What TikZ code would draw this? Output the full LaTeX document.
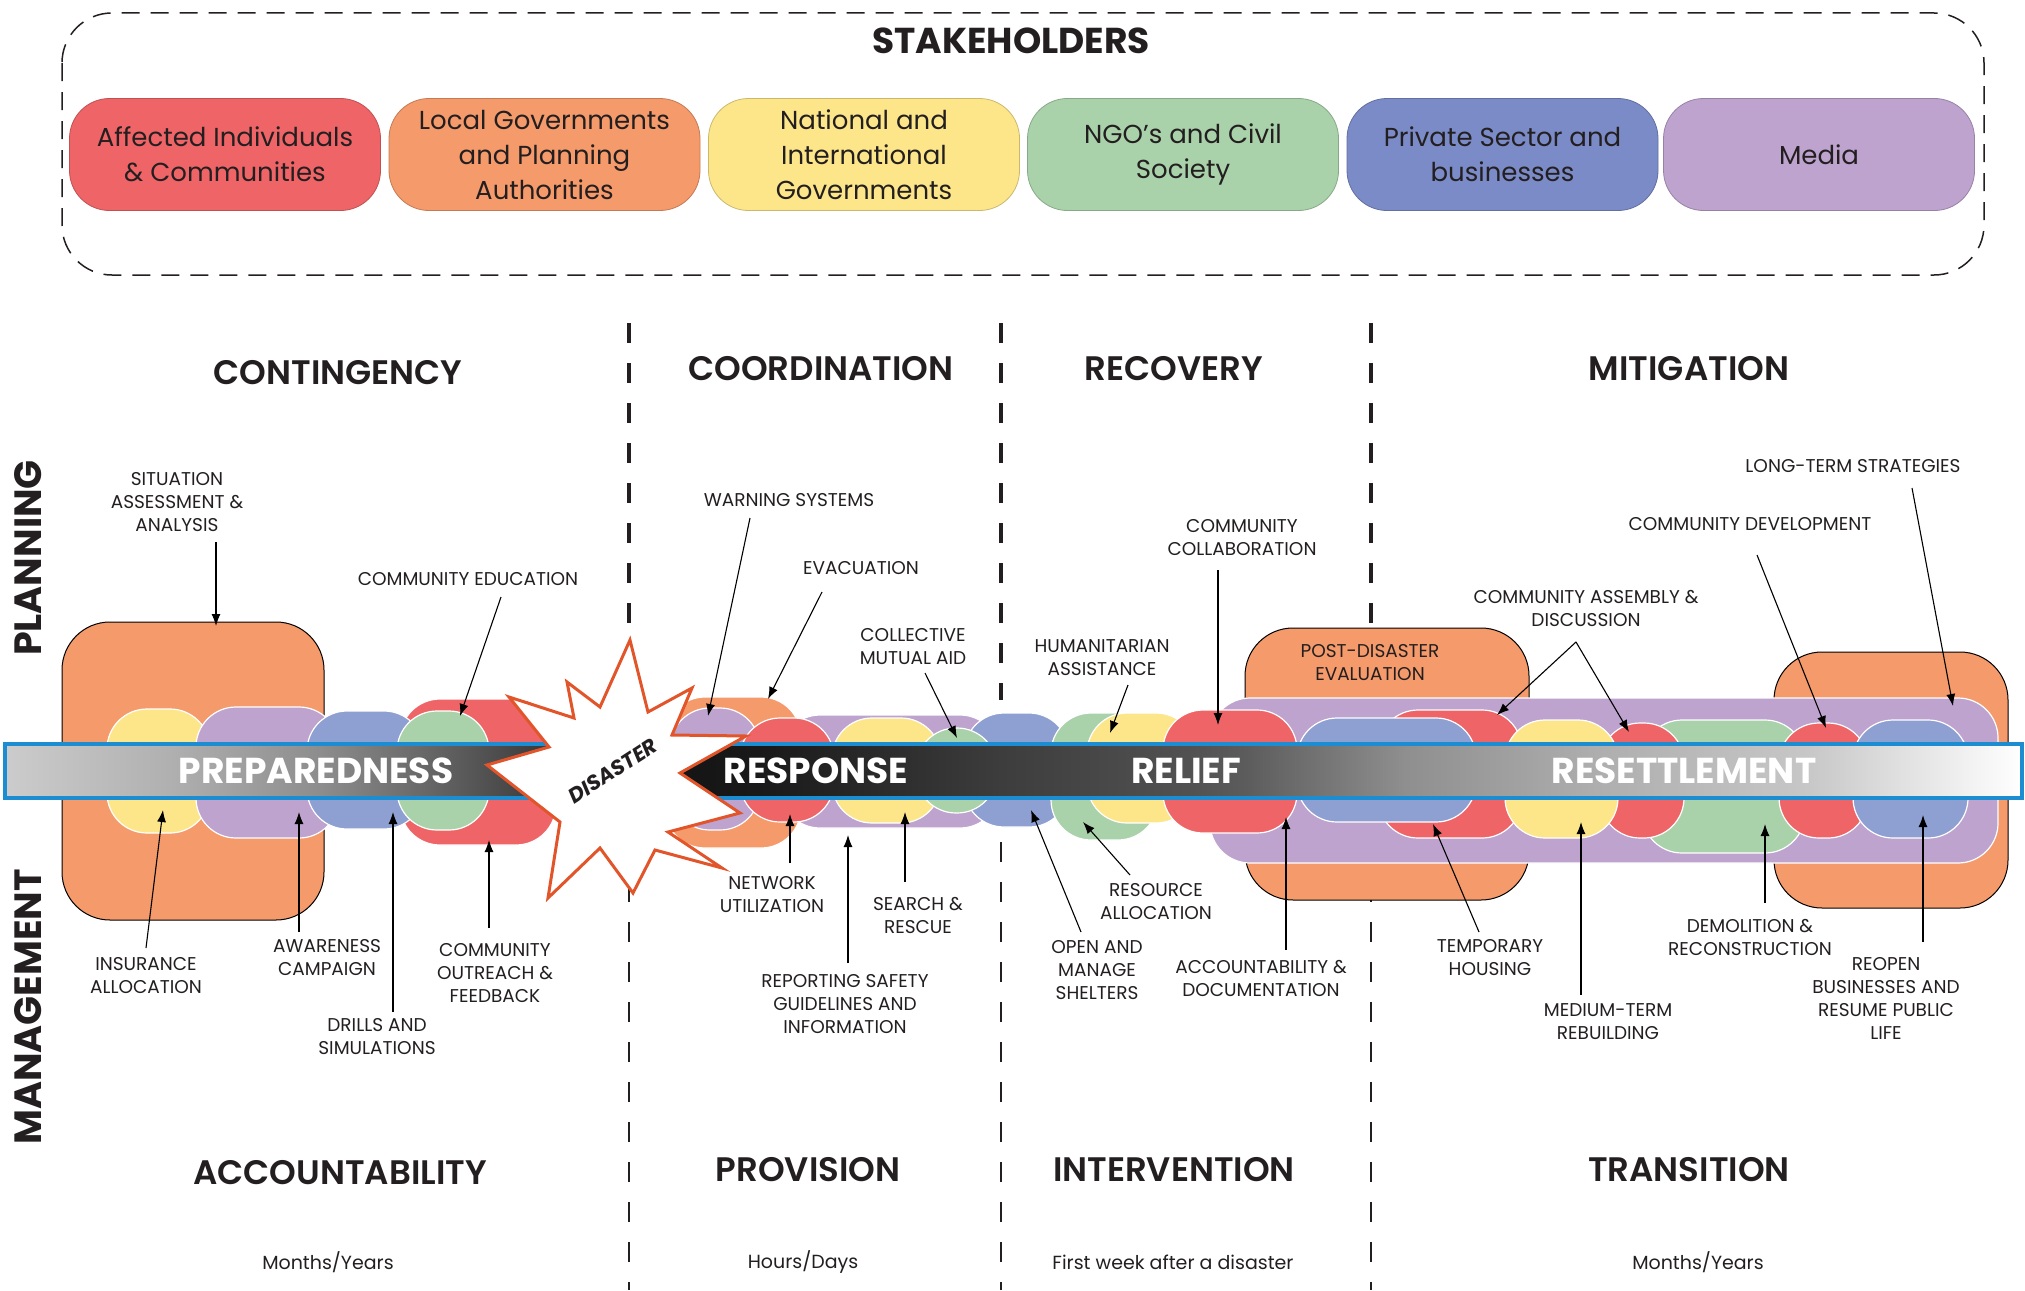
\documentclass[tikz,border=0pt]{standalone}
\usepackage{fontspec}
\setmainfont{Poppins}
\newfontfamily\headfont{Poppins}[UprightFont=* SemiBold]
\usepackage{xcolor}
\usepackage{tikz}
\usetikzlibrary{arrows.meta, positioning, calc}

\definecolor{ink}{HTML}{231F20}
\definecolor{hRed}{HTML}{EF6567}
\definecolor{hOrange}{HTML}{F59A6A}
\definecolor{hYellow}{HTML}{FDE68A}
\definecolor{hGreen}{HTML}{AAD2AA}
\definecolor{hBlue}{HTML}{7B8BC7}
\definecolor{hPurple}{HTML}{BDA3CE}
\definecolor{pBlue}{HTML}{8E9FD2}
\definecolor{bandBlue}{HTML}{1B8DD0}
\definecolor{starEdge}{HTML}{E2552B}

\pgfdeclarehorizontalshading{prepbar}{100bp}{color(0bp)=(black!20); color(25bp)=(black!20); color(40bp)=(black!31); color(54bp)=(black!45); color(67bp)=(black!65); color(75bp)=(black!78); color(100bp)=(black!78)}
\pgfdeclarehorizontalshading{respbar}{100bp}{color(0bp)=(black!92); color(25bp)=(black!92); color(28bp)=(black!90); color(37bp)=(black!76); color(44bp)=(black!68); color(46bp)=(black!64); color(52bp)=(black!44); color(59bp)=(black!32); color(67bp)=(black!22); color(70.5bp)=(black!12); color(75bp)=(white); color(100bp)=(white)}

\begin{document}
\begin{tikzpicture}[
    x=1pt, y=-1pt,
    >={Latex[length=12pt,width=9pt]},
    every node/.style={text=ink},
    lbl/.style={font=\fontsize{18.5}{23}\selectfont, align=center, inner sep=0pt},
    head/.style={font=\fontsize{34}{38}\selectfont\headfont, inner sep=0pt},
    timespan/.style={font=\fontsize{19}{23}\selectfont, inner sep=0pt},
    holder/.style={draw=#1!80!black, fill=#1, line width=0.8pt, rounded corners=40pt,
        minimum width=311pt, minimum height=112pt, align=center, font=\fontsize{26}{35}\selectfont},
    phase/.style={font=\fontsize{36}{40}\selectfont\bfseries, text=white, inner sep=0pt},
    sidetitle/.style={font=\fontsize{38}{40}\selectfont\bfseries, rotate=90, inner sep=0pt},
    pill/.style={fill=#1, draw=white, line width=1.2pt, rounded corners=40pt},
    frame/.style={fill=hOrange, draw=black, line width=1pt, rounded corners=48pt},
    bandline/.style={draw=bandBlue, line width=4pt},
    pointer/.style={->, line width=1.1pt, black},
    septop/.style={draw=ink, line width=3.5pt, dash pattern=on 20pt off 20pt},
    sepbot/.style={draw=ink, line width=1.3pt, dash pattern=on 20pt off 20pt}
]
\useasboundingbox (0,0) rectangle (2025,1290);

% Stakeholders
\draw[ink, line width=1.5pt, dash pattern=on 18pt off 11pt, rounded corners=50pt] (62,13) rectangle (1984,275);
\node[font=\fontsize{36}{40}\selectfont\bfseries, inner sep=0pt] (stake) at (1011,41) {STAKEHOLDERS};

\node[holder=hRed] (affected) at (225,154.5) {Affected Individuals\\\& Communities};
\node[holder=hOrange] (localgov) at (544.5,154.5) {Local Governments\\and Planning\\Authorities};
\node[holder=hYellow] (natgov) at (864,154.5) {National and\\International\\Governments};
\node[holder=hGreen] (ngo) at (1183,154.5) {NGO’s and Civil\\Society};
\node[holder=hBlue] (private) at (1502.5,154.5) {Private Sector and\\businesses};
\node[holder=hPurple] (media) at (1819,154.5) {Media};

% Phase separators
\draw[septop] (629,323) -- (629,700);
\draw[septop] (1001,323) -- (1001,700);
\draw[septop] (1371,323) -- (1371,700);
\draw[sepbot] (629,842) -- (629,1290);
\draw[sepbot] (1001,842) -- (1001,1290);
\draw[sepbot] (1371,842) -- (1371,1290);

% Column titles
\node[head] (contingency) at (338,373) {CONTINGENCY};
\node[head] (coordination) at (821,369) {COORDINATION};
\node[head] (recovery) at (1174,369) {RECOVERY};
\node[head] (mitigation) at (1689,369) {MITIGATION};
\node[head] (accountability) at (340,1173) {ACCOUNTABILITY};
\node[head] (provision) at (808,1170) {PROVISION};
\node[head] (intervention) at (1174,1170) {INTERVENTION};
\node[head] (transition) at (1689,1170) {TRANSITION};

\node[timespan] (spanA) at (328,1262) {Months/Years};
\node[timespan] (spanB) at (803,1262) {Hours/Days};
\node[timespan] (spanC) at (1173,1262) {First week after a disaster};
\node[timespan] (spanD) at (1698,1262) {Months/Years};

\node[sidetitle] (planning) at (28,558) {PLANNING};
\node[sidetitle] (management) at (28,1007) {MANAGEMENT};

% Preparedness chain
\draw[frame] (62,622) rectangle (324,920);
\draw[pill=hRed] (400,699) rectangle (556,845);
\draw[pill=hYellow] (107,709) rectangle (210,833);
\draw[pill=hPurple] (196,707) rectangle (339,838);
\draw[pill=pBlue] (307,711) rectangle (424,829);
\draw[pill=hGreen] (397,711) rectangle (489,830);

% Response chain
\draw[pill=hOrange] (665,697) rectangle (801,848);
\draw[pill=hPurple] (670,708) rectangle (760,830);
\draw[pill=hPurple] (780,715) rectangle (1000,828);
\draw[pill=hRed] (740,718) rectangle (834,822);
\draw[pill=hYellow] (832,718) rectangle (941,823);
\draw[pill=pBlue] (964,713) rectangle (1069,827);
\draw[pill=hGreen] (916,728) rectangle (997,813);

% Relief and resettlement chain
\draw[frame] (1245,628) rectangle (1529,900);
\draw[frame] (1774,652) rectangle (2008,908);
\draw[pill=hPurple] (1210,698) rectangle (1998,863);
\draw[pill=hGreen] (1051,713) rectangle (1158,840);
\draw[pill=hYellow] (1087,713) rectangle (1196,823);
\draw[pill=hRed] (1163,710) rectangle (1297,833);
\draw[pill=hRed] (1378,710) rectangle (1522,838);
\draw[pill=pBlue] (1297,718) rectangle (1476,822);
\draw[pill=hGreen] (1642,720) rectangle (1805,853);
\draw[pill=hRed] (1600,723) rectangle (1684,838);
\draw[pill=hYellow] (1505,720) rectangle (1618,838);
\draw[pill=hRed] (1779,723) rectangle (1868,838);
\draw[pill=pBlue] (1853,720) rectangle (1968,838);
\node[lbl] (postdis) at (1370,663) {POST-DISASTER\\EVALUATION};

% Band
\shade[shading=prepbar] (5,744) rectangle (552,798);
\draw[bandline] (552,744) -- (5,744) -- (5,798) -- (552,798);
\shade[shading=respbar] (682,744) rectangle (2022,798);
\draw[bandline] (682,744) -- (2022,744) -- (2022,798) -- (682,798);

% Disaster star
\draw[fill=white, draw=starEdge, line width=3pt, miter limit=20]
    (630,640) -- (648,712) -- (692,688) -- (672,735) -- (746,736) -- (680,773)
    -- (740,813) -- (668,832) -- (722,868) -- (655,850) -- (633,893) -- (600,848)
    -- (548,898) -- (560,822) -- (487,765) -- (549,747) -- (509,697) -- (574,718)
    -- (567,682) -- (600,707) -- cycle;
\node[font=\fontsize{21}{22}\selectfont\bfseries\itshape, rotate=33, inner sep=0pt] (disaster) at (613,771) {DISASTER};

\node[phase] (prep) at (316,771) {PREPAREDNESS};
\node[phase] (resp) at (816,771) {RESPONSE};
\node[phase] (relief) at (1186,771) {RELIEF};
\node[phase] (resettle) at (1684,771) {RESETTLEMENT};

% Planning labels
\node[lbl] (situation) at (177,502) {SITUATION\\ASSESSMENT \&\\ANALYSIS};
\node[lbl] (education) at (468,579) {COMMUNITY EDUCATION};
\node[lbl] (warning) at (789,500) {WARNING SYSTEMS};
\node[lbl] (evacuation) at (861,568) {EVACUATION};
\node[lbl] (mutualaid) at (913,647) {COLLECTIVE\\MUTUAL AID};
\node[lbl] (humanit) at (1102,658) {HUMANITARIAN\\ASSISTANCE};
\node[lbl] (collab) at (1242,538) {COMMUNITY\\COLLABORATION};
\node[lbl] (assembly) at (1586,608) {COMMUNITY ASSEMBLY \&\\DISCUSSION};
\node[lbl] (develop) at (1750,524) {COMMUNITY DEVELOPMENT};
\node[lbl] (longterm) at (1853,466) {LONG-TERM STRATEGIES};

\coordinate (situationT) at (216,626);
\coordinate (educationT) at (460,716);
\coordinate (warningT) at (708,716);
\coordinate (evacuationT) at (768,699);
\coordinate (mutualaidT) at (957,738);
\coordinate (humanitT) at (1110,733);
\coordinate (collabT) at (1218,725);
\coordinate (assemblyT) at (1497,715);
\coordinate (assemblyU) at (1629,732);
\coordinate (developT) at (1826,728);
\coordinate (longtermT) at (1953,706);

\draw[pointer] ([shift={(39,40)}]situation.center) -- (situationT);
\draw[pointer] ([shift={(33,18)}]education.center) -- (educationT);
\draw[pointer] ([shift={(-39,18)}]warning.center) -- (warningT);
\draw[pointer] ([shift={(-39,24)}]evacuation.center) -- (evacuationT);
\draw[pointer] ([shift={(12,26)}]mutualaid.center) -- (mutualaidT);
\draw[pointer] ([shift={(26,27)}]humanit.center) -- (humanitT);
\draw[pointer] ([shift={(-24,32)}]collab.center) -- (collabT);
\draw[pointer] ([shift={(-10,34)}]assembly.center) -- (assemblyT);
\draw[pointer] ([shift={(-10,34)}]assembly.center) -- (assemblyU);
\draw[pointer] ([shift={(7,31)}]develop.center) -- (developT);
\draw[pointer] ([shift={(59,22)}]longterm.center) -- (longtermT);

% Management labels
\node[lbl] (insurance) at (146,976) {INSURANCE\\ALLOCATION};
\node[lbl] (awareness) at (327,958) {AWARENESS\\CAMPAIGN};
\node[lbl] (drills) at (377,1037) {DRILLS AND\\SIMULATIONS};
\node[lbl] (outreach) at (495,973) {COMMUNITY\\OUTREACH \&\\FEEDBACK};
\node[lbl] (network) at (772,895) {NETWORK\\UTILIZATION};
\node[lbl] (rescue) at (918,915) {SEARCH \&\\RESCUE};
\node[lbl] (reporting) at (845,1004) {REPORTING SAFETY\\GUIDELINES AND\\INFORMATION};
\node[lbl] (resource) at (1156,902) {RESOURCE\\ALLOCATION};
\node[lbl] (shelters) at (1097,970) {OPEN AND\\MANAGE\\SHELTERS};
\node[lbl] (documentation) at (1261,978) {ACCOUNTABILITY \&\\DOCUMENTATION};
\node[lbl] (housing) at (1490,958) {TEMPORARY\\HOUSING};
\node[lbl] (rebuilding) at (1608,1022) {MEDIUM-TERM\\REBUILDING};
\node[lbl] (demolition) at (1750,937) {DEMOLITION \&\\RECONSTRUCTION};
\node[lbl] (reopen) at (1886,998) {REOPEN\\BUSINESSES AND\\RESUME PUBLIC\\LIFE};

\coordinate (insuranceT) at (163,810);
\coordinate (awarenessT) at (299,812);
\coordinate (drillsT) at (393,812);
\coordinate (outreachT) at (489,840);
\coordinate (networkT) at (790,814);
\coordinate (rescueT) at (905,812);
\coordinate (reportingT) at (848,835);
\coordinate (resourceT) at (1083,822);
\coordinate (sheltersT) at (1031,810);
\coordinate (documentationT) at (1286,817);
\coordinate (housingT) at (1433,824);
\coordinate (rebuildingT) at (1581,822);
\coordinate (demolitionT) at (1765,824);
\coordinate (reopenT) at (1923,815);

\draw[pointer] ([shift={(0,-28)}]insurance.center) -- (insuranceT);
\draw[pointer] ([shift={(-28,-26)}]awareness.center) -- (awarenessT);
\draw[pointer] ([shift={(16,-25)}]drills.center) -- (drillsT);
\draw[pointer] ([shift={(-6,-45)}]outreach.center) -- (outreachT);
\draw[pointer] ([shift={(18,-32)}]network.center) -- (networkT);
\draw[pointer] ([shift={(-13,-33)}]rescue.center) -- (rescueT);
\draw[pointer] ([shift={(3,-41)}]reporting.center) -- (reportingT);
\draw[pointer] ([shift={(-26,-27)}]resource.center) -- (resourceT);
\draw[pointer] ([shift={(-16,-38)}]shelters.center) -- (sheltersT);
\draw[pointer] ([shift={(25,-28)}]documentation.center) -- (documentationT);
\draw[pointer] ([shift={(-11,-26)}]housing.center) -- (housingT);
\draw[pointer] ([shift={(-27,-27)}]rebuilding.center) -- (rebuildingT);
\draw[pointer] ([shift={(15,-34)}]demolition.center) -- (demolitionT);
\draw[pointer] ([shift={(37,-56)}]reopen.center) -- (reopenT);

\end{tikzpicture}
\end{document}
